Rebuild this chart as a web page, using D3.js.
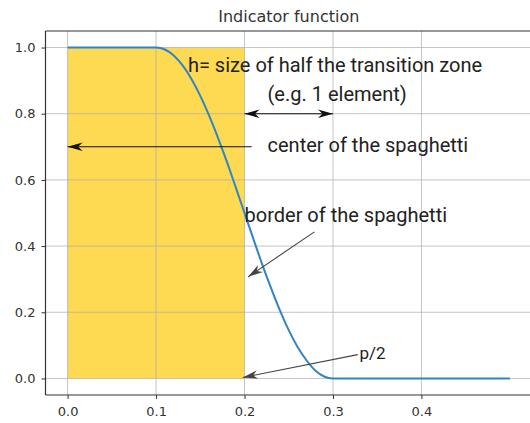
<!DOCTYPE html>
<html>
<head>
<meta charset="utf-8">
<script src="https://cdn.jsdelivr.net/npm/d3@7"></script>
<style>
  html, body { margin: 0; padding: 0; background: #fff; }
  svg { display: block; }
</style>
</head>
<body>
<div id="chart"></div>
<script>
// ------------------------------------------------------------
// Data
// ------------------------------------------------------------
const curveX = [0, 0.10, 0.11, 0.12, 0.13, 0.14, 0.15, 0.16, 0.17, 0.18, 0.19, 0.20,
                0.21, 0.22, 0.23, 0.24, 0.25, 0.26, 0.27, 0.28, 0.29, 0.30, 0.50];
const curveY = [1, 1, 0.994, 0.976, 0.946, 0.905, 0.854, 0.794, 0.727, 0.655, 0.578, 0.5,
                0.422, 0.345, 0.273, 0.206, 0.146, 0.095, 0.055, 0.024, 0.006, 0, 0];

// yellow zone: [x0, x1] x [y0, y1]
const zoneX = [0, 0.2];
const zoneY = [0, 1];

const xTicks = [0, 0.1, 0.2, 0.3, 0.4];
const yTicks = [0, 0.2, 0.4, 0.6, 0.8, 1.0];

const titleText = "Indicator function";

// annotations in data coordinates (text anchor at left baseline)
const labels = [
  { text: "h= size of half the transition zone", x: 0.136, y: 0.925 },
  { text: "(e.g. 1 element)", x: 0.226, y: 0.837 },
  { text: "center of the spaghetti", x: 0.226, y: 0.684 },
  { text: "border of the spaghetti", x: 0.200, y: 0.473 },
  { text: "p/2", x: 0.330, y: 0.060, small: true }
];

// arrows: from -> to, head at "to" (both ends if twoWay)
const arrows = [
  { from: [0.2, 0.8], to: [0.3, 0.8], twoWay: true, color: "#111" },
  { from: [0.208, 0.7], to: [0.0, 0.7], color: "#111" },
  { from: [0.279, 0.443], to: [0.204, 0.307], color: "#444" },
  { from: [0.328, 0.072], to: [0.198, 0.003], color: "#444" }
];

// ------------------------------------------------------------
// Layout
// ------------------------------------------------------------
const width = 530, height = 423;
const plot = { left: 45.5, right: 532, top: 31, bottom: 395 };

const svg = d3.select("#chart").append("svg")
  .attr("width", width)
  .attr("height", height);

const x = d3.scaleLinear().domain([-0.025, 0.525]).range([plot.left, plot.right]);
const y = d3.scaleLinear().domain([-0.05, 1.05]).range([plot.bottom, plot.top]);

// arrowhead marker
const defs = svg.append("defs");
arrows.forEach((a, i) => {
  defs.append("marker")
    .attr("id", "head" + i)
    .attr("viewBox", "-16 -5 17 10")
    .attr("refX", 0)
    .attr("refY", 0)
    .attr("markerWidth", 17)
    .attr("markerHeight", 10)
    .attr("markerUnits", "userSpaceOnUse")
    .attr("orient", "auto-start-reverse")
    .append("path")
    .attr("d", "M0,0 L-15,-4.2 L-10.5,0 L-15,4.2 Z")
    .attr("fill", a.color);
});

// yellow zone
svg.append("rect")
  .attr("x", x(zoneX[0]))
  .attr("y", y(zoneY[1]))
  .attr("width", x(zoneX[1]) - x(zoneX[0]))
  .attr("height", y(zoneY[0]) - y(zoneY[1]))
  .attr("fill", "#fed952");

// grid
svg.append("g")
  .selectAll("line")
  .data(xTicks)
  .join("line")
  .attr("x1", d => x(d)).attr("x2", d => x(d))
  .attr("y1", plot.top).attr("y2", plot.bottom)
  .attr("stroke", "#b0b0b0")
  .attr("stroke-opacity", 0.75)
  .attr("stroke-width", 1);

svg.append("g")
  .selectAll("line")
  .data(yTicks)
  .join("line")
  .attr("x1", plot.left).attr("x2", plot.right)
  .attr("y1", d => y(d)).attr("y2", d => y(d))
  .attr("stroke", "#b0b0b0")
  .attr("stroke-opacity", 0.75)
  .attr("stroke-width", 1);

// curve
const pts = curveX.map((v, i) => [v, curveY[i]]);
svg.append("path")
  .datum(pts)
  .attr("fill", "none")
  .attr("stroke", "#2f85c6")
  .attr("stroke-width", 2)
  .attr("d", d3.line().x(d => x(d[0])).y(d => y(d[1])).curve(d3.curveMonotoneX));

// axes
const xAxis = svg.append("g")
  .attr("transform", `translate(0,${plot.bottom})`)
  .call(d3.axisBottom(x).tickValues(xTicks).tickFormat(d3.format(".1f")).tickSize(4).tickPadding(8));

const yAxis = svg.append("g")
  .attr("transform", `translate(${plot.left},0)`)
  .call(d3.axisLeft(y).tickValues(yTicks).tickFormat(d3.format(".1f")).tickSize(4).tickPadding(6));

[xAxis, yAxis].forEach(g => {
  g.select(".domain").remove();
  g.selectAll(".tick line").attr("stroke", "#333");
  g.selectAll(".tick text")
    .attr("fill", "#333")
    .style("font-family", "DejaVu Sans")
    .style("font-size", "13px");
});

// spines (left, bottom, top)
svg.append("line")
  .attr("x1", plot.left).attr("x2", plot.left)
  .attr("y1", plot.top).attr("y2", plot.bottom)
  .attr("stroke", "#333").attr("stroke-width", 1.2);
svg.append("line")
  .attr("x1", plot.left).attr("x2", plot.right)
  .attr("y1", plot.bottom).attr("y2", plot.bottom)
  .attr("stroke", "#333").attr("stroke-width", 1.2);
svg.append("line")
  .attr("x1", plot.left).attr("x2", plot.right)
  .attr("y1", plot.top).attr("y2", plot.top)
  .attr("stroke", "#333").attr("stroke-width", 1.2);

// title
svg.append("text")
  .attr("x", (plot.left + plot.right) / 2)
  .attr("y", 22)
  .attr("text-anchor", "middle")
  .attr("fill", "#333")
  .style("font-family", "DejaVu Sans")
  .style("font-size", "16px")
  .text(titleText);

// arrows
arrows.forEach((a, i) => {
  const line = svg.append("line")
    .attr("x1", x(a.from[0])).attr("y1", y(a.from[1]))
    .attr("x2", x(a.to[0])).attr("y2", y(a.to[1]))
    .attr("stroke", a.color)
    .attr("stroke-width", 1.1)
    .attr("marker-end", `url(#head${i})`);
  if (a.twoWay) line.attr("marker-start", `url(#head${i})`);
});

// annotation texts
svg.append("g")
  .selectAll("text")
  .data(labels)
  .join("text")
  .attr("x", d => x(d.x))
  .attr("y", d => y(d.y))
  .attr("fill", "#222")
  .style("font-family", "Roboto")
  .style("font-size", d => d.small ? "17px" : "20px")
  .text(d => d.text);
</script>
</body>
</html>
